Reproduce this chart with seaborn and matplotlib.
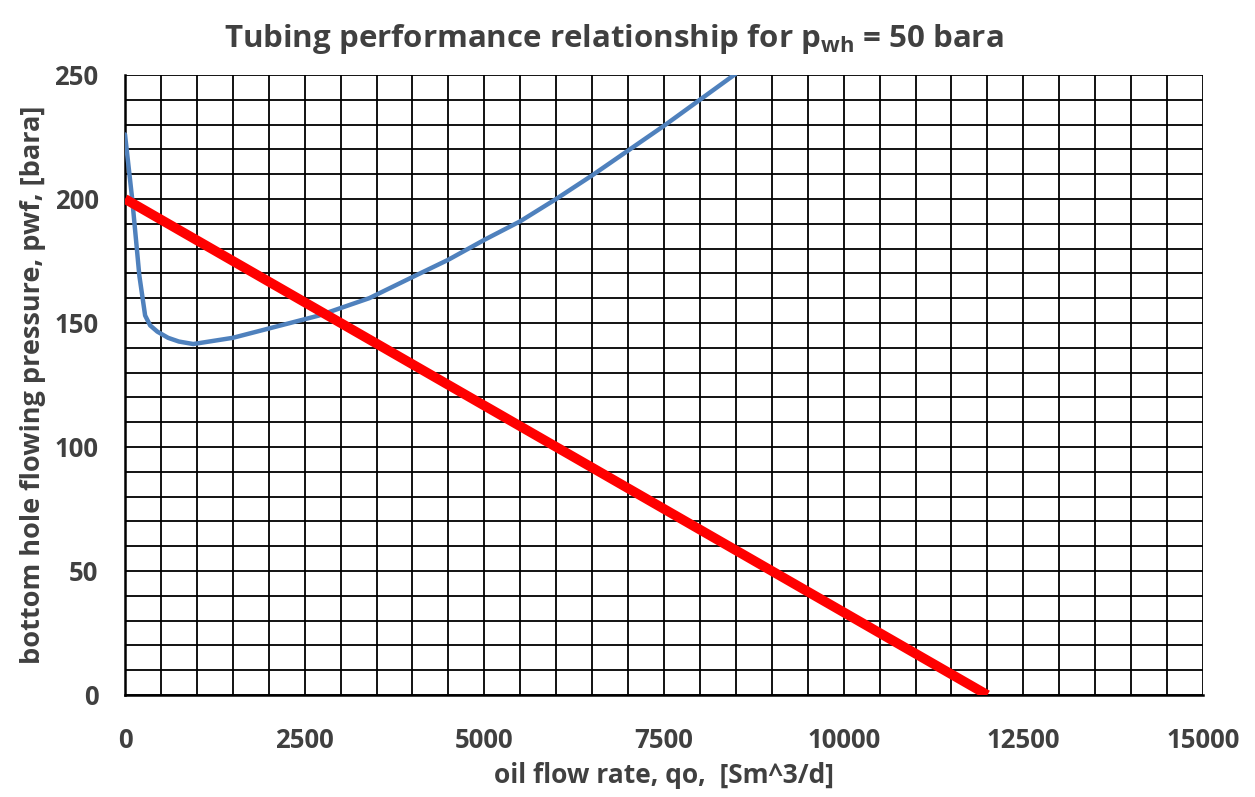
import numpy as np
import pandas as pd
import seaborn as sns
import matplotlib.pyplot as plt
from matplotlib.ticker import MultipleLocator

# tubing performance curve
TPR_Q = [0, 100, 200, 280, 350, 450, 600, 750, 950, 1500, 2100, 2700, 3400,
         4000, 4500, 5000, 5500, 6000, 6500, 7000, 7500, 8000, 8500]
TPR_P = [226, 200, 169, 153, 149, 146.5, 144, 142.5, 141.5, 144, 148.5, 153,
         160, 168.5, 175.5, 183.5, 191, 200, 209.5, 219.5, 229.5, 240, 250.5]

# inflow performance line
IPR_Q = [0, 12000]
IPR_P = [200, 0]

TEXT_COLOR = "#404040"
FONT = "Open Sans"

sns.set_style("white")
plt.rcParams["font.family"] = [FONT, "DejaVu Sans"]
plt.rcParams["mathtext.fontset"] = "custom"
plt.rcParams["mathtext.rm"] = FONT + ":bold"
plt.rcParams["mathtext.it"] = FONT + ":bold"
plt.rcParams["mathtext.bf"] = FONT + ":bold"

tpr = pd.DataFrame({"q": TPR_Q, "p": TPR_P})
ipr = pd.DataFrame({"q": IPR_Q, "p": IPR_P})

fig = plt.figure(figsize=(12.55, 7.97), dpi=100)
ax = fig.add_axes([0.0996, 0.128, 0.8590, 0.778])

sns.lineplot(data=tpr, x="q", y="p", ax=ax, color="#4f81bd", linewidth=3.2,
             sort=False, zorder=3)
sns.lineplot(data=ipr, x="q", y="p", ax=ax, color="#ff0000", linewidth=7,
             solid_capstyle="butt", zorder=4)

ax.set_xlim(0, 15000)
ax.set_ylim(0, 250)
ax.xaxis.set_major_locator(MultipleLocator(2500))
ax.xaxis.set_minor_locator(MultipleLocator(500))
ax.yaxis.set_major_locator(MultipleLocator(50))
ax.yaxis.set_minor_locator(MultipleLocator(10))
ax.grid(which="both", color="black", linewidth=1.3, zorder=1)
ax.set_axisbelow(True)

for side in ["top", "right"]:
    ax.spines[side].set_visible(False)
for side in ["left", "bottom"]:
    ax.spines[side].set_color("black")
    ax.spines[side].set_linewidth(1.8)

ax.tick_params(which="major", direction="out", length=7, width=1.5,
               color="black", labelsize=18.5, labelcolor=TEXT_COLOR)
ax.tick_params(axis="x", which="major", pad=16)
ax.tick_params(axis="y", which="major", pad=12)
ax.tick_params(which="minor", length=0)
for lbl in ax.get_xticklabels() + ax.get_yticklabels():
    lbl.set_fontweight("bold")

ax.set_xlabel("oil flow rate, qo,  [Sm^3/d]", fontsize=19, fontweight="bold",
              color=TEXT_COLOR, labelpad=6)
ax.set_ylabel("bottom hole flowing pressure, pwf, [bara]", fontsize=19.5,
              fontweight="bold", color=TEXT_COLOR, labelpad=6)
ax.set_title(r"Tubing performance relationship for $\mathrm{p_{wh}}$ = 50 bara",
             fontsize=22.5, fontweight="bold", color=TEXT_COLOR, pad=20,
             x=0.4536)

fig.savefig("out.png", dpi=100)
